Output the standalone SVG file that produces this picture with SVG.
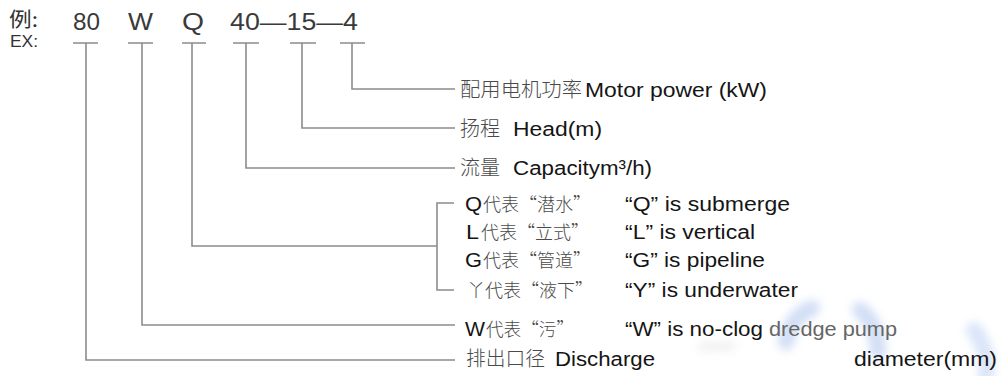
<svg xmlns="http://www.w3.org/2000/svg" width="1001" height="376" viewBox="0 0 1001 376">
<style>
.ln{fill:none;stroke:#8c8c8c;stroke-width:1.6}
.en{font-family:"Liberation Sans",Arial,sans-serif;font-size:20px;fill:#151515}
.zh{font-family:"Noto Sans CJK SC","Noto Sans",sans-serif;font-size:20px;fill:#4a4a4a;font-weight:300}
.zs{font-family:"Noto Sans CJK SC","Noto Sans",sans-serif;font-size:18px;fill:#4a4a4a;font-weight:300}
.hd{font-family:"Liberation Sans",Arial,sans-serif;font-size:24px;fill:#3a3a3a}
</style>
<defs>
<filter id="bl" x="-80%" y="-80%" width="260%" height="260%"><feGaussianBlur stdDeviation="5"/></filter>
</defs>
<rect width="1001" height="376" fill="#ffffff"/>
<g id="watermark" opacity="0.32" filter="url(#bl)" fill="none" stroke-linecap="round">
<path d="M786 342 Q790 318 812 308" stroke="#6f97e0" stroke-width="16"/>
<path d="M860 310 Q878 324 878 352" stroke="#6f97e0" stroke-width="16"/>
<path d="M974 330 Q990 352 986 376" stroke="#8aaeea" stroke-width="16"/>
<path d="M702 347 L732 346" stroke="#c4c4c4" stroke-width="7"/>
</g>
<g id="header">
<text x="9" y="27" class="zh" style="fill:#333;font-size:20px;font-weight:400" textLength="29" lengthAdjust="spacingAndGlyphs">例:</text>
<text x="10" y="47" class="en" style="font-size:16px;fill:#333" textLength="28" lengthAdjust="spacingAndGlyphs">EX:</text>
<text x="73" y="30" class="hd" textLength="27" lengthAdjust="spacingAndGlyphs">80</text>
<text x="128" y="30" class="hd" textLength="25" lengthAdjust="spacingAndGlyphs">W</text>
<text x="182" y="30" class="hd" textLength="22" lengthAdjust="spacingAndGlyphs">Q</text>
<text x="230" y="30" class="hd" textLength="128" lengthAdjust="spacingAndGlyphs">40—15—4</text>
</g>
<g id="connectors">
<path class="ln" d="M73 43H98M128 43H153M182 43H206M233 43H259M290 43H316M340 43H365"/>
<path class="ln" d="M352 43V89H455"/>
<path class="ln" d="M302 43V128H455"/>
<path class="ln" d="M246 43V168H455"/>
<path class="ln" d="M192 43V246H437"/>
<path class="ln" d="M454 203H437V290H454"/>
<path class="ln" d="M142 43V325H455"/>
<path class="ln" d="M86 43V360H455"/>
</g>
<g id="motor">
<text x="460" y="97" class="zh" textLength="122" lengthAdjust="spacingAndGlyphs">配用电机功率</text>
<text x="585" y="97" class="en" textLength="182" lengthAdjust="spacingAndGlyphs">Motor power (kW)</text>
</g>
<g id="head">
<text x="460" y="136" class="zh" textLength="40" lengthAdjust="spacingAndGlyphs">扬程</text>
<text x="513" y="136" class="en" textLength="89" lengthAdjust="spacingAndGlyphs">Head(m)</text>
</g>
<g id="capacity">
<text x="460" y="175" class="zh" textLength="40" lengthAdjust="spacingAndGlyphs">流量</text>
<text x="513" y="175" class="en" textLength="139" lengthAdjust="spacingAndGlyphs">Capacitym³/h)</text>
</g>
<g id="type-q">
<text x="465" y="211" class="en" textLength="17" lengthAdjust="spacingAndGlyphs">Q</text>
<text x="483" y="211" class="zs">代表“潜水”</text>
<text x="625" y="211" class="en" textLength="165" lengthAdjust="spacingAndGlyphs">“Q” is submerge</text>
</g>
<g id="type-l">
<text x="466" y="239" class="en" textLength="13" lengthAdjust="spacingAndGlyphs">L</text>
<text x="481" y="239" class="zs">代表“立式”</text>
<text x="625" y="239" class="en" textLength="130" lengthAdjust="spacingAndGlyphs">“L” is vertical</text>
</g>
<g id="type-g">
<text x="465" y="267" class="en" textLength="17" lengthAdjust="spacingAndGlyphs">G</text>
<text x="483" y="267" class="zs">代表“管道”</text>
<text x="625" y="267" class="en" textLength="140" lengthAdjust="spacingAndGlyphs">“G” is pipeline</text>
</g>
<g id="type-y">
<text x="467" y="297" class="zs">丫代表“液下”</text>
<text x="625" y="297" class="en" textLength="173" lengthAdjust="spacingAndGlyphs">“Y” is underwater</text>
</g>
<g id="type-w">
<text x="465" y="336" class="en" textLength="20" lengthAdjust="spacingAndGlyphs">W</text>
<text x="486" y="336" class="zs" textLength="88" lengthAdjust="spacingAndGlyphs">代表“污”</text>
<text x="625" y="336" class="en" textLength="138" lengthAdjust="spacingAndGlyphs">“W” is no-clog</text>
<text x="769" y="336" class="en" style="fill:#666" textLength="128" lengthAdjust="spacingAndGlyphs">dredge pump</text>
</g>
<g id="discharge">
<text x="466" y="366" class="zh" textLength="79" lengthAdjust="spacingAndGlyphs">排出口径</text>
<text x="555" y="366" class="en" textLength="100" lengthAdjust="spacingAndGlyphs">Discharge</text>
<text x="854" y="366" class="en" textLength="143" lengthAdjust="spacingAndGlyphs">diameter(mm)</text>
</g>
</svg>
